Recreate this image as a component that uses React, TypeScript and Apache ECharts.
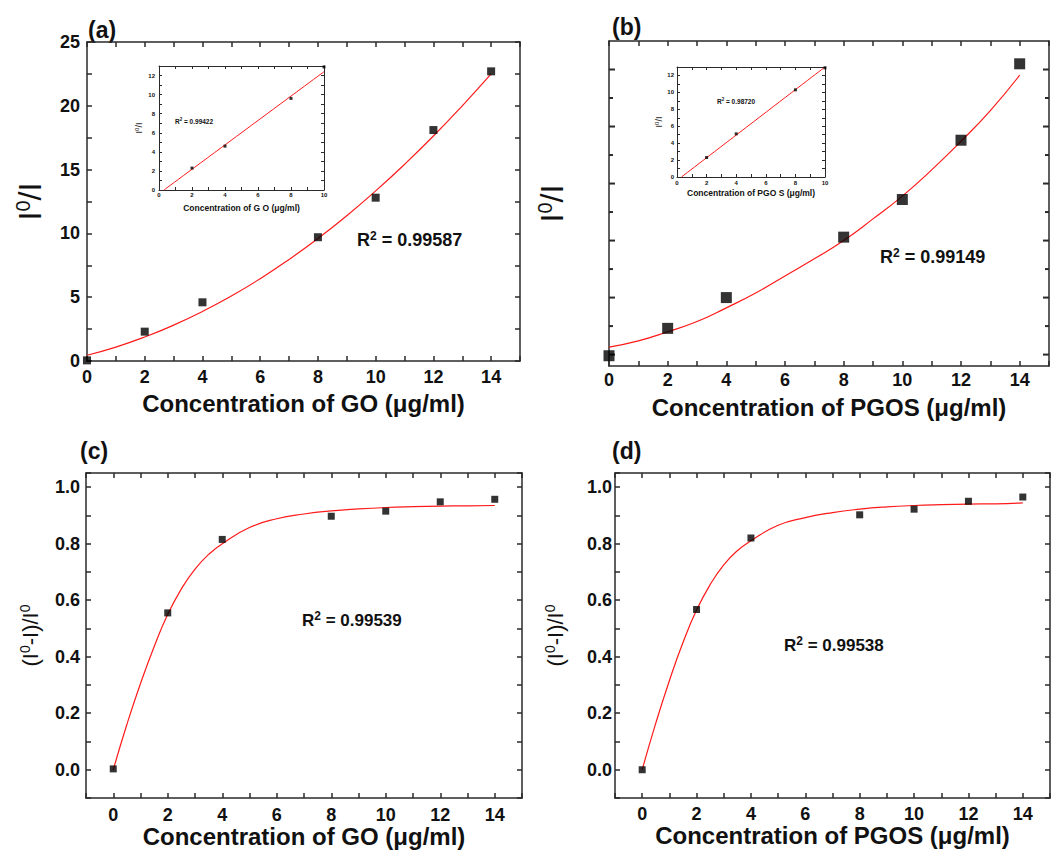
import React, { useEffect, useRef } from "react";
import * as echarts from "echarts";

// ---------- data ----------
const concX = [0, 2, 4, 8, 10, 12, 14];
const quenchGO = [0.05, 2.3, 4.6, 9.7, 12.8, 18.1, 22.7];
const quenchPGOS = [-0.1, 2.3, 5.0, 10.3, 13.6, 18.8, 25.5];

const fitX = [0, 1, 2, 3, 4, 5, 6, 7, 8, 9, 10, 11, 12, 13, 14];
const fitGO = [0.45, 1.09, 1.88, 2.81, 3.88, 5.09, 6.45, 7.96, 9.6, 11.39, 13.33, 15.41, 17.63, 20.0, 22.5];
const fitPGOS = [0.65, 1.2, 2.0, 2.9, 4.1, 5.4, 6.9, 8.4, 10.0, 11.9, 13.9, 16.2, 18.7, 21.4, 24.5];

const effGO = [0.003, 0.555, 0.815, 0.897, 0.915, 0.948, 0.957];
const effPGOS = [0.0, 0.567, 0.82, 0.902, 0.922, 0.95, 0.965];
const effFitX = [0, 0.5, 1, 1.5, 2, 2.5, 3, 3.5, 4, 5, 6, 7, 8, 9, 10, 11, 12, 13, 14];
const effFitGO = [0, 0.16, 0.305, 0.435, 0.55, 0.64, 0.71, 0.762, 0.8, 0.857, 0.888, 0.905, 0.916, 0.923, 0.928, 0.931, 0.933, 0.934, 0.935];
const effFitPGOS = [0, 0.165, 0.315, 0.45, 0.565, 0.655, 0.725, 0.775, 0.81, 0.865, 0.892, 0.91, 0.922, 0.93, 0.935, 0.938, 0.94, 0.941, 0.944];

const insetX = [2, 4, 8, 10];
const insetGO = [2.3, 4.6, 9.6, 12.9];
const insetPGOS = [2.3, 5.1, 10.3, 12.9];
const insetLineX = [0.3, 10];
const insetLineGO = [0, 12.4];
const insetLinePGOS = [0, 13];

// tick label values
const concTicks = [0, 2, 4, 6, 8, 10, 12, 14];
const concMinor = [1, 3, 5, 7, 9, 11, 13];
const quenchTicks = [0, 5, 10, 15, 20, 25];
const quenchMinor = [2.5, 7.5, 12.5, 17.5, 22.5];
const effTicks = [0, 0.2, 0.4, 0.6, 0.8, 1.0];
const insetXTicks = [0, 2, 4, 6, 8, 10];
const insetYTicks = [0, 2, 4, 6, 8, 10, 12];

const FONT = '"Liberation Sans", Arial, sans-serif';
const INK = "#111";
const AX = "#2a2a2a";

const inList = (list: number[], v: number) => list.some((t) => Math.abs(t - v) < 1e-6);

function addFrame(f: any, xAxis: any[], yAxis: any[], series: any[]) {
  const xi = xAxis.length;
  const yi = yAxis.length;
  const line = { show: true, onZero: false, lineStyle: { color: AX, width: f.lw } };
  const lab = (vals: number[], digits: number, margin: number) => ({
    show: true, fontSize: f.fs, fontWeight: "bold", fontFamily: FONT, color: INK, margin,
    showMinLabel: true, showMaxLabel: true, hideOverlap: false,
    formatter: (v: number) => (inList(vals, v) ? v.toFixed(digits) : ""),
  });
  const tickOpt = (step: number | null) =>
    step
      ? { interval: step, axisTick: { show: true, inside: true, length: f.minor + 1, lineStyle: { color: AX, width: f.lw } } }
      : { interval: 5, axisTick: { show: false } };
  const base = { type: "value", gridIndex: f.grid, splitLine: { show: false } };
  const xr = { min: f.xMin, max: f.xMax, ...tickOpt(f.xStep) };
  const yr = { min: f.yMin, max: f.yMax, ...tickOpt(f.yStep) };
  xAxis.push({
    ...base, ...xr, position: "bottom", axisLine: line,
    axisLabel: lab(f.xMajor, 0, f.xlm),
    name: f.xName, nameLocation: "middle", nameGap: f.xGap, nameTextStyle: f.xNameStyle,
  });
  xAxis.push({ ...base, ...xr, position: "top", axisLine: line, axisLabel: { show: false } });
  yAxis.push({
    ...base, ...yr, position: "left", axisLine: line,
    axisLabel: lab(f.yMajor, f.yDigits || 0, f.ylm),
    name: f.yName, nameLocation: "middle", nameGap: f.yGap, nameTextStyle: f.yNameStyle,
  });
  yAxis.push({ ...base, ...yr, position: "right", axisLine: line, axisLabel: { show: false } });

  // custom tick marks for the axis whose minimum is not a multiple of the step
  if (f.customY) {
    const tickSeries = (vals: number[], len: number, side: number) => ({
      type: "custom",
      xAxisIndex: xi,
      yAxisIndex: yi,
      data: vals.map((v) => [0, v, len]),
      renderItem: (params: any, api: any) => {
        const v = api.value(1);
        const l = api.value(2);
        const p = api.coord([side === 2 ? f.xMin : f.xMax, v]);
        const x2 = side === 2 ? p[0] + l : p[0] - l;
        return { type: "line", shape: { x1: p[0], y1: p[1], x2, y2: p[1] }, style: { stroke: "#2a2a2a", lineWidth: 2 } };
      },
    });
    series.push(
      tickSeries(f.yMajor, f.tick, 2), tickSeries(f.yMinor, f.minor, 2),
      tickSeries(f.yMajor, f.tick, 3), tickSeries(f.yMinor, f.minor, 3),
    );
  }
  return { xi, yi };
}

const xTitle = (fs: number) => ({ fontSize: fs, fontWeight: "bold", fontFamily: FONT, color: INK });
const supName = (fs: number, sfs: number, raise: number) => ({
  rich: {
    b: { fontSize: fs, fontFamily: FONT, color: INK },
    s: { fontSize: sfs, fontFamily: FONT, color: INK, padding: [0, 0, raise, 0] },
  },
});
const rText = (x: number, y: number, val: string, fs: number, sfs: number, raise: number) => ({
  type: "text",
  x, y,
  style: {
    text: "{b|R}{s|2}{b| = " + val + "}",
    verticalAlign: "middle",
    rich: {
      b: { fontSize: fs, fontWeight: "bold", fontFamily: FONT, fill: INK },
      s: { fontSize: sfs, fontWeight: "bold", fontFamily: FONT, fill: INK, padding: [0, 0, raise, 0] },
    },
  },
});
const panelLabel = (x: number, y: number, t: string) => ({
  type: "text", x, y,
  style: { text: t, fontSize: 23, fontWeight: "bold", fontFamily: FONT, fill: INK, verticalAlign: "middle" },
});

export default function App() {
  const ref = useRef<HTMLDivElement>(null);
  useEffect(() => {
    if (!ref.current) return;
    const chart = echarts.init(ref.current, null, { renderer: "svg" });
    const xAxis: any[] = [];
    const yAxis: any[] = [];
    const series: any[] = [];
    const grid = [
      { left: 87, top: 42, width: 433, height: 319 },
      { left: 609, top: 41, width: 440, height: 325 },
      { left: 86, top: 473, width: 436, height: 325 },
      { left: 615, top: 473, width: 435, height: 325 },
      { left: 159, top: 66, width: 165, height: 124 },
      { left: 677, top: 67, width: 148, height: 110 },
    ].map((g) => ({ ...g, outerBoundsMode: "none", containLabel: false }));

    const big = { fs: 18, tick: 6, minor: 4, lw: 1.5 };
    const a = addFrame({
      ...big, grid: 0, xMin: 0, xMax: 15, yMin: 0, yMax: 25, xStep: 1, yStep: 2.5,
      xMajor: concTicks, yMajor: quenchTicks,
      xlm: 7, ylm: 7,
      xName: "Concentration of GO (μg/ml)", xGap: 30, xNameStyle: xTitle(24),
      yName: "{b|I}{s|0}{b|/I}", yGap: 40, yNameStyle: supName(32, 20, 14),
    }, xAxis, yAxis, series);
    const b = addFrame({
      ...big, grid: 1, xMin: 0, xMax: 15, yMin: -1, yMax: 27.5, xStep: 1, yStep: null, customY: true,
      xMajor: concTicks, yMajor: quenchTicks, yMinor: quenchMinor,
      xlm: 5, ylm: 8,
      xName: "Concentration of PGOS (μg/ml)", xGap: 29, xNameStyle: xTitle(24),
      yName: "{b|I}{s|0}{b|/I}", yGap: 40, yNameStyle: supName(32, 20, 14),
    }, xAxis, yAxis, series);
    const c = addFrame({
      ...big, grid: 2, xMin: -1, xMax: 15, yMin: -0.1, yMax: 1.05, xStep: 1, yStep: 0.1,
      xMajor: concTicks, yMajor: effTicks, yDigits: 1,
      xlm: 8, ylm: 6,
      xName: "Concentration of GO (μg/ml)", xGap: 26, xNameStyle: xTitle(24),
      yName: "{b|(I}{s|0}{b|-I)/I}{s|0}", yGap: 44, yNameStyle: supName(22, 14, 10),
    }, xAxis, yAxis, series);
    const d = addFrame({
      ...big, grid: 3, xMin: -1, xMax: 15, yMin: -0.1, yMax: 1.05, xStep: 1, yStep: 0.1,
      xMajor: concTicks, yMajor: effTicks, yDigits: 1,
      xlm: 7, ylm: 3,
      xName: "Concentration of PGOS (μg/ml)", xGap: 25, xNameStyle: xTitle(24),
      yName: "{b|(I}{s|0}{b|-I)/I}{s|0}", yGap: 48, yNameStyle: supName(22, 14, 10),
    }, xAxis, yAxis, series);
    const small = { fs: 6, tick: 3, minor: 2, lw: 1 };
    const ia = addFrame({
      ...small, grid: 4, xMin: 0, xMax: 10, yMin: 0, yMax: 13, xStep: 1, yStep: 1,
      xMajor: insetXTicks, yMajor: insetYTicks,
      xlm: 2, ylm: 4,
      xName: "Concentration of G O (μg/ml)", xGap: 13, xNameStyle: xTitle(8.5),
      yName: "{b|I}{s|0}{b|/I}", yGap: 15, yNameStyle: supName(9, 6, 4),
    }, xAxis, yAxis, series);
    const ib = addFrame({
      ...small, grid: 5, xMin: 0, xMax: 10, yMin: 0, yMax: 13, xStep: 1, yStep: 1,
      xMajor: insetXTicks, yMajor: insetYTicks,
      xlm: 3, ylm: 3,
      xName: "Concentration of PGO S (μg/ml)", xGap: 11, xNameStyle: xTitle(8.5),
      yName: "{b|I}{s|0}{b|/I}", yGap: 13, yNameStyle: supName(9, 6, 4),
    }, xAxis, yAxis, series);

    const pts = (xs: number[], ys: number[]) => xs.map((x, i) => [x, ys[i]]);
    const scatter = (ax: any, data: any[], size: number) => ({
      type: "scatter", xAxisIndex: ax.xi, yAxisIndex: ax.yi, data, symbol: "rect",
      symbolSize: size, itemStyle: { color: "#000" }, z: 4, clip: true,
    });
    const fit = (ax: any, data: any[], w: number) => ({
      type: "line", xAxisIndex: ax.xi, yAxisIndex: ax.yi, data, smooth: true,
      showSymbol: false, symbol: "none", lineStyle: { color: "#ff1a1a", width: w }, z: 3,
    });

    series.push(
      fit(a, pts(fitX, fitGO), 1.2),
      scatter(a, pts(concX, quenchGO), 8),
      fit(b, pts(fitX, fitPGOS), 1.2),
      scatter(b, pts(concX, quenchPGOS), 11),
      fit(c, pts(effFitX, effFitGO), 1.2),
      scatter(c, pts(concX, effGO), 7),
      fit(d, pts(effFitX, effFitPGOS), 1.2),
      scatter(d, pts(concX, effPGOS), 7),
      fit(ia, pts(insetLineX, insetLineGO), 1),
      scatter(ia, pts(insetX, insetGO), 3),
      fit(ib, pts(insetLineX, insetLinePGOS), 1),
      scatter(ib, pts(insetX, insetPGOS), 3),
    );

    chart.setOption({
      animation: false,
      grid,
      xAxis,
      yAxis,
      series,
      graphic: [
        panelLabel(88, 30, "(a)"),
        panelLabel(612, 27, "(b)"),
        panelLabel(80, 451, "(c)"),
        panelLabel(612, 451, "(d)"),
        rText(357, 240, "0.99587", 18, 12, 9),
        rText(880, 257, "0.99149", 18, 12, 9),
        rText(302, 620, "0.99539", 17, 12, 9),
        rText(784, 645, "0.99538", 17, 12, 9),
        rText(175, 121, "0.99422", 6.5, 4.5, 3),
        rText(717, 101, "0.98720", 6.5, 4.5, 3),
      ],
    });
    return () => chart.dispose();
  }, []);
  return <div ref={ref} style={{ position: "absolute", left: 0, top: 0, width: 1054, height: 850 }} />;
}
